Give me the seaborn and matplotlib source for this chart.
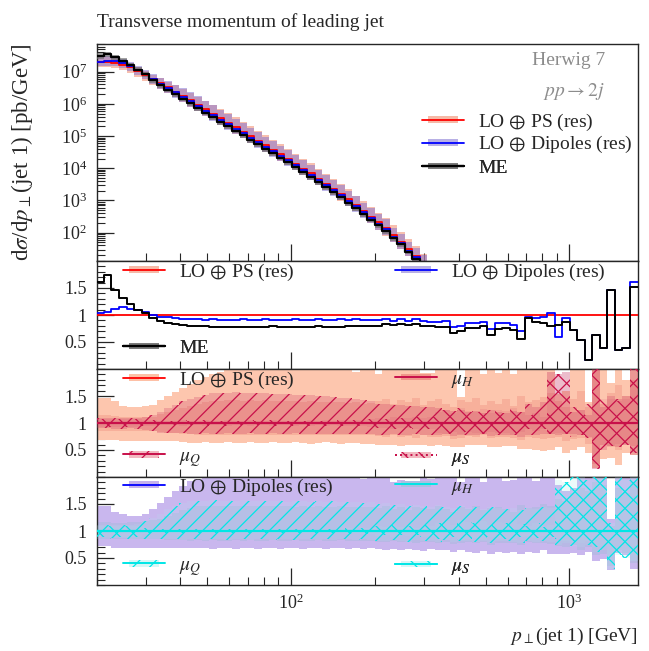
import numpy as np
import pandas as pd
import matplotlib
matplotlib.use("Agg")
import matplotlib.pyplot as plt
import seaborn as sns
from matplotlib.legend_handler import HandlerBase
from matplotlib.patches import Rectangle
from matplotlib.lines import Line2D
from matplotlib.colors import to_rgba
from matplotlib.ticker import (FixedLocator, MultipleLocator, LogLocator, NullFormatter,
                               LogFormatterSciNotation)

# ---------------- data ----------------
pt_edges = [20.0, 21.3, 22.6, 24.1, 25.6, 27.3, 29.0, 30.9, 32.9, 35.0,
            37.2, 39.6, 42.2, 44.9, 47.8, 50.8, 54.1, 57.5, 61.2, 65.2,
            69.3, 73.8, 78.5, 83.5, 88.9, 94.6, 100.7, 107.1, 114.0, 121.3,
            129.1, 137.4, 146.2, 155.5, 165.5, 176.1, 187.4, 199.4, 212.2, 225.8,
            240.3, 255.7, 272.1, 289.6, 308.2, 327.9, 348.9, 371.3, 395.1, 420.5,
            447.4, 476.1, 506.6, 539.1, 573.7, 610.5, 649.6, 691.3, 735.6, 782.8,
            833.0, 886.4, 943.2, 1003.7, 1068.1, 1136.5, 1209.4, 1287.0, 1369.5, 1457.3,
            1550.8, 1650.2, 1756.0]

# log10 of dsigma/dpT for LO + PS (res)
ps_log10 = [7.29, 7.30, 7.28, 7.22, 7.13, 7.02, 6.90, 6.77, 6.64, 6.51,
            6.38, 6.25, 6.11, 5.97, 5.83, 5.69, 5.55, 5.41, 5.27, 5.13,
            4.99, 4.85, 4.71, 4.57, 4.43, 4.29, 4.14, 3.99, 3.84, 3.68,
            3.52, 3.36, 3.20, 3.03, 2.86, 2.68, 2.50, 2.32, 2.13, 1.93,
            1.72, 1.50, 1.28, 1.05, 0.81, 0.56, 0.30, 0.03, -0.25, -0.54,
            -0.84, -1.15, -1.47, -1.80, -2.14, -2.49, -2.85, -3.22, -3.60, -3.99,
            -4.39, -4.80, -5.22, -5.65, -6.09, -6.54, -7.00, -7.47, -7.95, -8.44,
            -8.94, -9.45]

me_ratio = [1.62, 1.74, 1.46, 1.31, 1.20, 1.10, 1.03, 0.94, 0.88, 0.85,
            0.83, 0.81, 0.80, 0.79, 0.79, 0.785, 0.78, 0.78, 0.785, 0.78,
            0.785, 0.78, 0.785, 0.79, 0.785, 0.78, 0.785, 0.78, 0.785, 0.79,
            0.78, 0.785, 0.78, 0.79, 0.795, 0.79, 0.80, 0.80, 0.83, 0.815,
            0.827, 0.815, 0.827, 0.80, 0.796, 0.785, 0.784, 0.67, 0.71, 0.753,
            0.76, 0.796, 0.63, 0.735, 0.753, 0.722, 0.55, 0.95, 0.877, 0.85,
            0.80, 0.815, 0.877, 0.72, 0.54, 0.17, 0.63, 0.38, 1.46, 0.36,
            0.38, 1.52]

dip_ratio = [1.03, 1.06, 1.12, 1.14, 1.12, 1.09, 1.05, 1.00, 0.97, 0.955,
             0.94, 0.93, 0.925, 0.92, 0.915, 0.92, 0.915, 0.91, 0.915, 0.92,
             0.915, 0.91, 0.92, 0.915, 0.91, 0.915, 0.92, 0.91, 0.915, 0.92,
             0.91, 0.915, 0.93, 0.915, 0.92, 0.91, 0.91, 0.905, 0.935, 0.89,
             0.92, 0.88, 0.92, 0.895, 0.877, 0.877, 0.88, 0.78, 0.80, 0.846,
             0.85, 0.877, 0.75, 0.846, 0.846, 0.82, 0.70, 0.957, 0.938, 0.97,
             1.03, 0.60, 0.938, 0.72, 0.54, 0.17, 0.63, 0.38, 1.46, 0.36,
             0.38, 1.62]

me_unc = [0.20, 0.20, 0.19, 0.19, 0.18, 0.18, 0.18, 0.18, 0.18, 0.18,
          0.18, 0.18, 0.17, 0.18, 0.18, 0.17, 0.18, 0.18, 0.17, 0.18,
          0.18, 0.17, 0.18, 0.18, 0.17, 0.18, 0.18, 0.17, 0.18, 0.18,
          0.18, 0.17, 0.18, 0.18, 0.17, 0.18, 0.18, 0.17, 0.18, 0.18,
          0.19, 0.18, 0.19, 0.18, 0.19, 0.18, 0.19, 0.20, 0.19, 0.20,
          0.20, 0.21, 0.20, 0.21, 0.22, 0.21, 0.22, 0.23, 0.22, 0.24,
          0.25, 0.24, 0.26, 0.27, 0.28, 0.30, 0.29, 0.32, 0.30, 0.33,
          0.34, 0.35]

# PS variations (ratio to central)
ps_tot_up = [1.47, 1.46, 1.40, 1.31, 1.30, 1.30, 1.31, 1.34, 1.42, 1.50,
             1.57, 1.65, 1.72, 1.79, 1.85, 1.90, 1.95, 2.05, 2.05, 2.05,
             2.05, 2.05, 2.05, 2.05, 2.05, 2.05, 2.05, 2.05, 2.05, 2.05,
             2.05, 2.05, 2.05, 2.05, 1.95, 2.05, 2.05, 1.90, 2.05, 2.05,
             2.05, 2.05, 2.05, 1.93, 1.92, 2.05, 2.05, 2.05, 1.48, 2.05,
             2.05, 1.90, 2.05, 1.92, 2.05, 1.90, 2.05, 2.05, 2.05, 2.05,
             2.05, 1.54, 1.60, 2.05, 2.05, 1.38, 2.05, 2.05, 1.75, 2.05,
             1.80, 2.05]
ps_tot_dn = [0.69, 0.69, 0.68, 0.66, 0.66, 0.66, 0.66, 0.66, 0.66, 0.66,
             0.66, 0.64, 0.63, 0.63, 0.64, 0.63, 0.63, 0.64, 0.63, 0.63,
             0.64, 0.63, 0.63, 0.64, 0.63, 0.63, 0.64, 0.63, 0.62, 0.63,
             0.64, 0.63, 0.62, 0.63, 0.63, 0.62, 0.62, 0.60, 0.59, 0.60,
             0.58, 0.60, 0.59, 0.60, 0.58, 0.60, 0.58, 0.55, 0.55, 0.60,
             0.59, 0.60, 0.56, 0.55, 0.58, 0.58, 0.52, 0.52, 0.50, 0.48,
             0.50, 0.55, 0.45, 0.50, 0.55, 0.45, 0.16, 0.34, 0.35, 0.22,
             0.45, 0.40]
ps_h_up = [1.14, 1.14, 1.13, 1.12, 1.12, 1.12, 1.12, 1.12, 1.16, 1.20,
           1.24, 1.28, 1.32, 1.35, 1.38, 1.40, 1.41, 1.42, 1.42, 1.41,
           1.42, 1.41, 1.42, 1.40, 1.41, 1.40, 1.40, 1.39, 1.40, 1.38,
           1.39, 1.38, 1.38, 1.37, 1.38, 1.36, 1.37, 1.40, 1.45, 1.35,
           1.42, 1.38, 1.46, 1.34, 1.40, 1.44, 1.36, 1.30, 1.42, 1.38,
           1.47, 1.33, 1.40, 1.36, 1.45, 1.32, 1.50, 1.38, 1.42, 1.48,
           1.55, 1.40, 1.30, 1.45, 1.60, 1.30, 2.00, 1.35, 1.55, 1.70,
           1.50, 1.80]
ps_h_dn = [0.86, 0.86, 0.86, 0.86, 0.86, 0.86, 0.86, 0.86, 0.84, 0.82,
           0.81, 0.80, 0.79, 0.78, 0.77, 0.78, 0.78, 0.77, 0.78, 0.78,
           0.77, 0.78, 0.78, 0.77, 0.78, 0.78, 0.77, 0.78, 0.78, 0.77,
           0.78, 0.78, 0.77, 0.78, 0.78, 0.77, 0.78, 0.76, 0.74, 0.77,
           0.75, 0.76, 0.73, 0.77, 0.75, 0.74, 0.76, 0.70, 0.72, 0.76,
           0.75, 0.77, 0.72, 0.74, 0.75, 0.73, 0.68, 0.74, 0.72, 0.70,
           0.73, 0.74, 0.66, 0.70, 0.72, 0.62, 0.25, 0.60, 0.55, 0.50,
           0.62, 0.58]
ps_q_up = [1.10, 1.10, 1.09, 1.09, 1.10, 1.10, 1.11, 1.14, 1.20, 1.27,
           1.34, 1.40, 1.45, 1.49, 1.52, 1.55, 1.56, 1.56, 1.57, 1.56,
           1.56, 1.55, 1.55, 1.54, 1.53, 1.53, 1.52, 1.52, 1.51, 1.50,
           1.50, 1.48, 1.47, 1.46, 1.45, 1.43, 1.40, 1.36, 1.35, 1.34,
           1.33, 1.32, 1.31, 1.30, 1.30, 1.28, 1.24, 1.22, 1.25, 1.20,
           1.22, 1.19, 1.24, 1.20, 1.18, 1.22, 1.20, 1.35, 1.30, 1.38,
           1.95, 1.90, 1.95, 1.20, 1.25, 1.15, 2.05, 1.30, 1.50, 1.45,
           1.50, 2.05]
ps_q_dn = [0.90, 0.90, 0.89, 0.89, 0.90, 0.89, 0.87, 0.85, 0.82, 0.81,
           0.81, 0.81, 0.80, 0.80, 0.81, 0.80, 0.80, 0.81, 0.80, 0.80,
           0.81, 0.80, 0.80, 0.81, 0.80, 0.80, 0.81, 0.80, 0.80, 0.79,
           0.80, 0.80, 0.79, 0.80, 0.80, 0.79, 0.80, 0.78, 0.77, 0.79,
           0.78, 0.77, 0.79, 0.78, 0.77, 0.78, 0.79, 0.76, 0.77, 0.78,
           0.78, 0.79, 0.76, 0.77, 0.78, 0.77, 0.75, 0.78, 0.77, 0.79,
           0.80, 0.78, 0.80, 0.80, 0.78, 0.75, 0.15, 0.50, 0.58, 0.55,
           0.60, 0.40]
ps_s_up = [1.08, 1.08, 1.07, 1.07, 1.08, 1.07, 1.06, 1.05, 1.04, 1.04,
           1.04, 1.05, 1.04, 1.04, 1.05, 1.04, 1.04, 1.05, 1.04, 1.04,
           1.05, 1.04, 1.04, 1.05, 1.04, 1.04, 1.05, 1.04, 1.05, 1.04,
           1.05, 1.04, 1.05, 1.06, 1.05, 1.06, 1.07, 1.10, 1.08, 1.12,
           1.10, 1.09, 1.12, 1.10, 1.11, 1.20, 1.25, 1.18, 1.28, 1.22,
           1.20, 1.26, 1.18, 1.24, 1.22, 1.28, 1.20, 1.15, 1.18, 1.12,
           1.95, 1.90, 1.95, 1.30, 1.25, 1.35, 2.05, 1.45, 1.45, 1.40,
           1.45, 2.05]
ps_s_dn = [0.92, 0.92, 0.93, 0.93, 0.92, 0.93, 0.94, 0.95, 0.96, 0.96,
           0.96, 0.95, 0.96, 0.96, 0.95, 0.96, 0.96, 0.95, 0.96, 0.96,
           0.95, 0.96, 0.96, 0.95, 0.96, 0.96, 0.95, 0.96, 0.95, 0.96,
           0.95, 0.96, 0.95, 0.94, 0.95, 0.94, 0.93, 0.90, 0.91, 0.89,
           0.90, 0.91, 0.88, 0.90, 0.89, 0.82, 0.80, 0.84, 0.79, 0.83,
           0.82, 0.80, 0.84, 0.81, 0.82, 0.78, 0.83, 0.88, 0.86, 0.89,
           0.80, 0.82, 0.80, 0.75, 0.78, 0.72, 0.15, 0.60, 0.58, 0.62,
           0.60, 0.45]

# Dipoles variations (ratio to central)
dip_tot_up = [1.47, 1.46, 1.36, 1.32, 1.28, 1.27, 1.32, 1.41, 1.52, 1.63,
              1.74, 1.84, 1.92, 1.97, 2.05, 2.05, 2.05, 2.05, 2.05, 2.05,
              2.05, 2.05, 2.05, 2.05, 2.05, 2.05, 2.05, 2.05, 2.05, 2.05,
              2.05, 2.05, 2.05, 2.05, 2.05, 1.97, 2.05, 2.05, 2.05, 1.90,
              1.95, 1.88, 1.88, 2.05, 1.96, 2.05, 2.05, 2.05, 1.90, 2.05,
              2.05, 1.90, 2.05, 2.05, 1.92, 1.95, 2.05, 2.05, 1.93, 2.05,
              2.05, 1.85, 1.75, 1.80, 2.05, 2.05, 2.05, 2.05, 1.22, 2.05,
              2.05, 2.05]
dip_tot_dn = [0.72, 0.72, 0.69, 0.69, 0.69, 0.69, 0.69, 0.69, 0.69, 0.69,
              0.69, 0.69, 0.69, 0.68, 0.68, 0.67, 0.68, 0.68, 0.67, 0.68,
              0.68, 0.67, 0.68, 0.68, 0.67, 0.68, 0.68, 0.67, 0.68, 0.68,
              0.67, 0.68, 0.68, 0.67, 0.68, 0.67, 0.68, 0.66, 0.65, 0.66,
              0.64, 0.66, 0.65, 0.63, 0.66, 0.64, 0.65, 0.62, 0.64, 0.62,
              0.60, 0.63, 0.58, 0.62, 0.60, 0.61, 0.57, 0.62, 0.60, 0.64,
              0.58, 0.57, 0.58, 0.60, 0.55, 0.62, 0.45, 0.48, 0.28, 0.60,
              0.55, 0.30]
dip_h_up = [1.16, 1.16, 1.15, 1.15, 1.16, 1.16, 1.18, 1.20, 1.22, 1.27,
            1.33, 1.38, 1.43, 1.46, 1.47, 1.47, 1.46, 1.47, 1.46, 1.47,
            1.46, 1.47, 1.46, 1.46, 1.47, 1.46, 1.45, 1.46, 1.45, 1.46,
            1.45, 1.45, 1.46, 1.45, 1.44, 1.45, 1.44, 1.42, 1.46, 1.40,
            1.44, 1.38, 1.45, 1.42, 1.40, 1.47, 1.41, 1.36, 1.44, 1.40,
            1.46, 1.38, 1.42, 1.45, 1.40, 1.36, 1.48, 1.42, 1.44, 1.50,
            1.46, 1.60, 1.55, 1.70, 1.80, 1.75, 1.90, 1.85, 1.10, 1.80,
            1.70, 1.90]
dip_h_dn = [0.86, 0.86, 0.86, 0.86, 0.86, 0.86, 0.86, 0.86, 0.86, 0.84,
            0.83, 0.83, 0.82, 0.83, 0.82, 0.83, 0.82, 0.82, 0.83, 0.82,
            0.83, 0.82, 0.82, 0.83, 0.82, 0.82, 0.83, 0.82, 0.82, 0.83,
            0.82, 0.82, 0.83, 0.82, 0.82, 0.81, 0.82, 0.80, 0.79, 0.81,
            0.79, 0.80, 0.78, 0.80, 0.79, 0.78, 0.80, 0.76, 0.78, 0.79,
            0.77, 0.79, 0.75, 0.78, 0.77, 0.78, 0.74, 0.79, 0.77, 0.78,
            0.76, 0.72, 0.70, 0.75, 0.65, 0.70, 0.55, 0.58, 0.35, 0.65,
            0.60, 0.40]
dip_q_up = [1.12, 1.12, 1.11, 1.11, 1.12, 1.13, 1.18, 1.25, 1.32, 1.40,
            1.47, 1.52, 1.55, 1.56, 1.55, 1.57, 1.56, 1.55, 1.56, 1.57,
            1.55, 1.56, 1.55, 1.56, 1.55, 1.54, 1.55, 1.56, 1.54, 1.55,
            1.54, 1.55, 1.53, 1.54, 1.53, 1.52, 1.53, 1.50, 1.52, 1.48,
            1.50, 1.46, 1.49, 1.47, 1.45, 1.48, 1.44, 1.42, 1.46, 1.43,
            1.45, 1.41, 1.44, 1.42, 1.40, 1.43, 1.38, 1.42, 1.40, 1.44,
            1.42, 1.95, 1.90, 2.05, 2.05, 1.95, 2.05, 2.05, 1.15, 2.00,
            1.95, 2.05]
dip_q_dn = [0.86, 0.86, 0.87, 0.87, 0.86, 0.86, 0.85, 0.85, 0.85, 0.85,
            0.85, 0.84, 0.85, 0.85, 0.84, 0.85, 0.85, 0.84, 0.85, 0.85,
            0.84, 0.85, 0.85, 0.84, 0.85, 0.85, 0.84, 0.85, 0.85, 0.84,
            0.85, 0.84, 0.85, 0.85, 0.84, 0.85, 0.84, 0.82, 0.81, 0.83,
            0.82, 0.80, 0.83, 0.81, 0.82, 0.80, 0.83, 0.79, 0.81, 0.82,
            0.80, 0.82, 0.78, 0.81, 0.82, 0.80, 0.77, 0.82, 0.80, 0.81,
            0.80, 0.75, 0.78, 0.72, 0.70, 0.75, 0.62, 0.65, 0.30, 0.55,
            0.50, 0.45]
dip_s_up = [1.10, 1.10, 1.09, 1.09, 1.10, 1.10, 1.05, 1.04, 1.03, 1.03,
            1.03, 1.04, 1.03, 1.03, 1.04, 1.03, 1.03, 1.04, 1.03, 1.03,
            1.04, 1.03, 1.03, 1.04, 1.03, 1.03, 1.04, 1.03, 1.04, 1.03,
            1.04, 1.03, 1.04, 1.05, 1.04, 1.05, 1.06, 1.10, 1.08, 1.12,
            1.07, 1.10, 1.06, 1.12, 1.09, 1.15, 1.18, 1.12, 1.20, 1.16,
            1.14, 1.19, 1.12, 1.17, 1.15, 1.20, 1.13, 1.10, 1.14, 1.08,
            1.12, 1.95, 1.90, 2.05, 2.05, 1.95, 2.05, 2.00, 1.15, 2.00,
            1.95, 2.05]
dip_s_dn = [0.88, 0.88, 0.88, 0.88, 0.88, 0.88, 0.95, 0.96, 0.97, 0.97,
            0.97, 0.96, 0.97, 0.97, 0.96, 0.97, 0.97, 0.96, 0.97, 0.97,
            0.96, 0.97, 0.97, 0.96, 0.97, 0.97, 0.96, 0.97, 0.96, 0.97,
            0.96, 0.97, 0.96, 0.95, 0.96, 0.95, 0.94, 0.90, 0.92, 0.89,
            0.92, 0.90, 0.93, 0.89, 0.91, 0.86, 0.84, 0.88, 0.83, 0.86,
            0.87, 0.84, 0.88, 0.85, 0.86, 0.83, 0.88, 0.90, 0.87, 0.91,
            0.89, 0.85, 0.82, 0.80, 0.78, 0.82, 0.70, 0.72, 0.28, 0.55,
            0.50, 0.45]

main_yticks = [1e2, 1e3, 1e4, 1e5, 1e6, 1e7]
x_major_ticks = [1e2, 1e3]
ratio_yticks = [0.5, 1.0, 1.5]
ratio_yticklabels = ["0.5", "1", "1.5"]

# ---------------- style ----------------
sns.set_style("ticks")
plt.rcParams["font.family"] = ["Liberation Serif", "DejaVu Serif"]
plt.rcParams["mathtext.fontset"] = "stix"
plt.rcParams["hatch.linewidth"] = 0.9
plt.rcParams["axes.linewidth"] = 1.0

FS = 14
TICK_FS = 13

C_RED = "#ff0000"
C_BLUE = "#0000ff"
C_CRIM = "#c8104a"
C_CYAN = "#00e6e6"
C_SALMON = "#f08060"
C_LAV = "#7f6fd0"

edges = np.asarray(pt_edges, float)


def stepy(v):
    v = np.asarray(v, float)
    return np.append(v, v[-1])


def band(ax, lo, hi, **kw):
    n = min(len(lo), len(hi), len(edges) - 1)
    ax.fill_between(edges[:n + 1], stepy(np.asarray(lo)[:n]), stepy(np.asarray(hi)[:n]),
                    step="post", linewidth=0, **kw)


def hist_line(ax, vals, color, lw, ls="-", z=5):
    vals = np.asarray(vals, float)
    n = min(len(vals), len(edges) - 1)
    df = pd.DataFrame({"pt": edges[:n + 1], "val": stepy(vals[:n])})
    sns.lineplot(data=df, x="pt", y="val", drawstyle="steps-post", color=color,
                 linewidth=lw, linestyle=ls, ax=ax, zorder=z, legend=False,
                 estimator=None, sort=False)


class Entry:
    def __init__(self, color=None, lw=1.4, ls="-", face=None, hatch=None, hcolor=None,
                 pw=0.70, ph=0.50):
        self.color, self.lw, self.ls = color, lw, ls
        self.face, self.hatch, self.hcolor = face, hatch, hcolor
        self.pw, self.ph = pw, ph


class EntryHandler(HandlerBase):
    def create_artists(self, legend, h, xdescent, ydescent, width, height, fontsize, trans):
        arts = []
        x0, y0 = -xdescent, -ydescent
        if h.face is not None or h.hatch is not None:
            pw, ph = h.pw * width, h.ph * height
            r = Rectangle((x0 + (width - pw) / 2, y0 + (height - ph) / 2), pw, ph,
                          facecolor=h.face if h.face is not None else "none",
                          hatch=h.hatch,
                          edgecolor=h.hcolor if h.hcolor is not None else "none",
                          linewidth=0, transform=trans)
            arts.append(r)
        if h.color is not None:
            ln = Line2D([x0, x0 + width], [y0 + height / 2] * 2, color=h.color,
                        lw=h.lw, ls=h.ls, transform=trans)
            arts.append(ln)
        return arts


def add_entry(ax, entry, label, x, y):
    leg = ax.legend([entry], [label], loc="center left", bbox_to_anchor=(x, y),
                    frameon=False, handlelength=2.15, handleheight=0.7,
                    handletextpad=0.75, borderpad=0, borderaxespad=0,
                    prop={"size": FS}, handler_map={Entry: EntryHandler()})
    leg.set_zorder(20)
    ax.add_artist(leg)


# ---------------- figure ----------------
W, H = 649, 651
fig = plt.figure(figsize=(W / 100, H / 100), dpi=100)
left = 96.7 / W
width = (637.5 - 96.7) / W


def rect(top_px, bot_px):
    return [left, 1 - bot_px / H, width, (bot_px - top_px) / H]


ax0 = fig.add_axes(rect(44, 261))
ax1 = fig.add_axes(rect(261, 369), sharex=ax0)
ax2 = fig.add_axes(rect(369, 477), sharex=ax0)
ax3 = fig.add_axes(rect(477, 585), sharex=ax0)

ps = 10 ** np.asarray(ps_log10)
me = ps * np.asarray(me_ratio)
dip = ps * np.asarray(dip_ratio)
ones = ps / ps

# ---- main panel ----
ax0.set_xscale("log")
ax0.set_yscale("log")
band(ax0, ps * np.asarray(ps_tot_dn), ps * np.asarray(ps_tot_up), color=C_SALMON, alpha=0.5, zorder=1)
band(ax0, dip * np.asarray(dip_tot_dn), dip * np.asarray(dip_tot_up), color=C_LAV, alpha=0.5, zorder=2)
band(ax0, me * (1 - np.asarray(me_unc)), me * (1 + np.asarray(me_unc)), color="#707070", alpha=0.65, zorder=3)
hist_line(ax0, ps, C_RED, 1.3, z=5)
hist_line(ax0, dip, C_BLUE, 1.3, z=6)
hist_line(ax0, me, "black", 1.6, z=7)
ax0.set_ylim(13.2, 7.2e7)

ax0.text(0.94, 0.926, "Herwig 7", transform=ax0.transAxes, ha="right", va="center",
         fontsize=FS, color="#8c8c8c")
ax0.text(0.94, 0.779, r"$pp \rightarrow 2j$", transform=ax0.transAxes, ha="right",
         va="center", fontsize=FS, color="#8c8c8c")
add_entry(ax0, Entry(C_RED, 1.3, face=to_rgba(C_SALMON, 0.55)), r"LO $\oplus$ PS (res)", 0.6015, 0.640)
add_entry(ax0, Entry(C_BLUE, 1.3, face=to_rgba(C_LAV, 0.55)), r"LO $\oplus$ Dipoles (res)", 0.6015, 0.535)
add_entry(ax0, Entry("black", 1.6, face=to_rgba("#707070", 0.7)), "ME", 0.6015, 0.429)

# ---- ratio panel 1 ----
hist_line(ax1, ones, C_RED, 1.3, z=5)
hist_line(ax1, dip_ratio, C_BLUE, 1.3, z=6)
hist_line(ax1, me_ratio, "black", 1.4, z=7)
add_entry(ax1, Entry(C_RED, 1.3, face=to_rgba(C_SALMON, 0.55)), r"LO $\oplus$ PS (res)", 0.0486, 0.898)
add_entry(ax1, Entry(C_BLUE, 1.3, face=to_rgba(C_LAV, 0.55)), r"LO $\oplus$ Dipoles (res)", 0.5516, 0.898)
add_entry(ax1, Entry("black", 1.6, face=to_rgba("#707070", 0.7)), "ME", 0.0486, 0.194)

# ---- ratio panel 2 (PS variations) ----
band(ax2, ps_tot_dn, ps_tot_up, color="#fdc6ae", zorder=1)
band(ax2, ps_h_dn, ps_h_up, color="#f09080", alpha=0.40, zorder=2)
band(ax2, ps_q_dn, ps_q_up, color="#c83060", alpha=0.24, zorder=3)
band(ax2, ps_s_dn, ps_s_up, color="#c83060", alpha=0.10, zorder=3)
band(ax2, ps_q_dn, ps_q_up, facecolor="none", hatch="//", edgecolor=C_CRIM, zorder=4)
band(ax2, ps_s_dn, ps_s_up, facecolor="none", hatch="\\\\", edgecolor=C_CRIM, zorder=4)
hist_line(ax2, ones, C_RED, 1.2, z=5)
hist_line(ax2, ones, C_CRIM, 1.6, z=6)
add_entry(ax2, Entry(C_RED, 1.3, face="#fdc0a6"), r"LO $\oplus$ PS (res)", 0.0486, 0.898)
add_entry(ax2, Entry(C_CRIM, 1.4, face="#f0968a"), r"$\mu_H$", 0.5516, 0.898)
add_entry(ax2, Entry(C_CRIM, 1.4, face="#f2b8c0", hatch="//", hcolor=C_CRIM), r"$\mu_Q$", 0.0486, 0.176)
add_entry(ax2, Entry(C_CRIM, 1.4, ls=":", face="#f2b8c0", hatch="\\\\", hcolor=C_CRIM), r"$\mu_S$", 0.5516, 0.176)

# ---- ratio panel 3 (Dipoles variations) ----
band(ax3, dip_tot_dn, dip_tot_up, color="#c9b7ee", zorder=1)
band(ax3, dip_h_dn, dip_h_up, color="#a0bcd8", alpha=0.40, zorder=2)
band(ax3, dip_q_dn, dip_q_up, color="#b0e8ee", alpha=0.15, zorder=3)
band(ax3, dip_s_dn, dip_s_up, color="#b0e8ee", alpha=0.10, zorder=3)
band(ax3, dip_q_dn, dip_q_up, facecolor="none", hatch="//", edgecolor=C_CYAN, zorder=4)
band(ax3, dip_s_dn, dip_s_up, facecolor="none", hatch="\\\\", edgecolor=C_CYAN, zorder=4)
hist_line(ax3, ones, C_BLUE, 1.2, z=5)
hist_line(ax3, ones, C_CYAN, 1.6, z=6)
add_entry(ax3, Entry(C_BLUE, 1.3, face="#c4b2ec"), r"LO $\oplus$ Dipoles (res)", 0.0486, 0.907)
add_entry(ax3, Entry(C_CYAN, 1.4, face="#a8c0e0"), r"$\mu_H$", 0.5516, 0.907)
add_entry(ax3, Entry(C_CYAN, 1.4, face="#d8f6f6", hatch="//", hcolor=C_CYAN), r"$\mu_Q$", 0.0486, 0.167)
add_entry(ax3, Entry(C_CYAN, 1.4, face="#d8f6f6", hatch="\\\\", hcolor=C_CYAN), r"$\mu_S$", 0.5516, 0.167)

# ---- axes cosmetics ----
for ax in (ax0, ax1, ax2, ax3):
    ax.set_xlim(edges[0], edges[-1])
    ax.set_xlabel("")
    ax.set_ylabel("")
    ax.tick_params(which="both", direction="in", top=False, right=False,
                   labelsize=TICK_FS, pad=7)
    ax.tick_params(which="major", length=12, width=0.9)
    ax.tick_params(which="minor", length=5.5, width=0.8)
    ax.xaxis.set_major_locator(FixedLocator(x_major_ticks))
    ax.xaxis.set_major_formatter(LogFormatterSciNotation())
    ax.xaxis.set_minor_locator(LogLocator(base=10, subs=np.arange(2, 10), numticks=50))
    ax.xaxis.set_minor_formatter(NullFormatter())
    for s in ax.spines.values():
        s.set_linewidth(1.0)
        s.set_visible(True)

ax0.yaxis.set_major_locator(FixedLocator(main_yticks))
ax0.yaxis.set_major_formatter(LogFormatterSciNotation())
ax0.yaxis.set_minor_locator(LogLocator(base=10, subs=np.arange(2, 10), numticks=100))
ax0.yaxis.set_minor_formatter(NullFormatter())

for ax in (ax1, ax2, ax3):
    ax.set_ylim(0.0, 2.0)
    ax.yaxis.set_major_locator(FixedLocator(ratio_yticks))
    ax.yaxis.set_minor_locator(MultipleLocator(0.1))
    ax.set_yticklabels(ratio_yticklabels)

for ax in (ax0, ax1, ax2):
    ax.tick_params(axis="x", labelbottom=False)
ax3.tick_params(axis="x", labelbottom=True, pad=6)

# titles and labels
fig.text(96.7 / W, 1 - 27 / H, "Transverse momentum of leading jet", ha="left",
         va="baseline", fontsize=FS)
fig.text(22 / W, 1 - 152.5 / H, r"d$\sigma$/d$p_\perp$(jet 1) [pb/GeV]", rotation=90,
         ha="center", va="center", fontsize=16.5)
fig.text(637.5 / W, 1 - 641 / H, r"$p_\perp$(jet 1) [GeV]", ha="right", va="baseline",
         fontsize=FS)

fig.savefig("out.png", dpi=100)
